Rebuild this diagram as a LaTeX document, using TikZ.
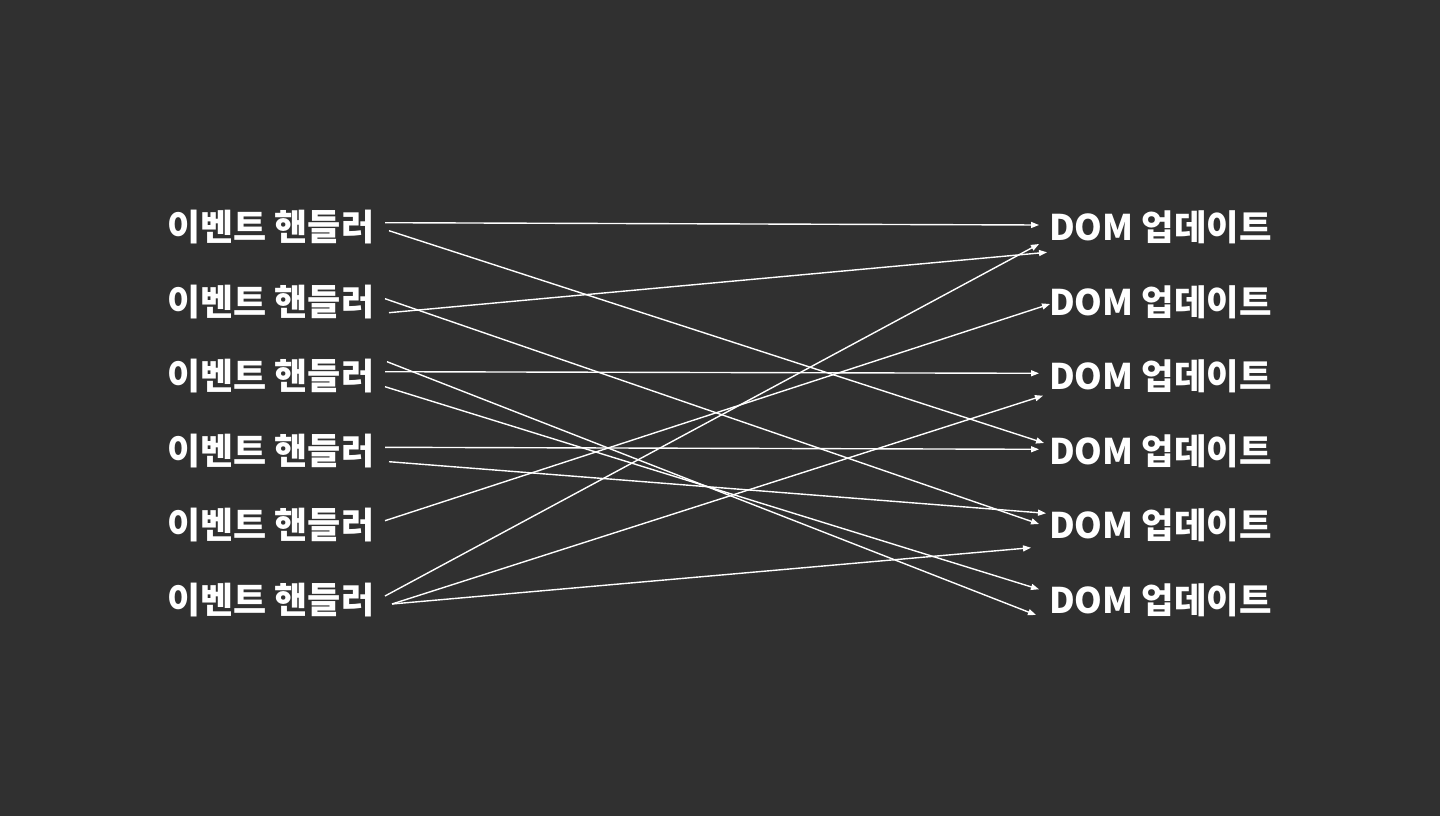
\documentclass[tikz,border=0pt]{standalone}
\usepackage{fontspec}
\newfontfamily\kr{Noto Sans CJK KR}
\usetikzlibrary{arrows.meta}
\definecolor{bg}{HTML}{303030}
\begin{document}
\begin{tikzpicture}[x=1pt,y=-1pt,
  lbl/.style={anchor=west,inner sep=0pt,text=white,font=\kr\bfseries\fontsize{36}{42}\selectfont},
  rlbl/.style={lbl,font=\kr\bfseries\fontsize{35.3}{42}\selectfont},
  conn/.style={draw=white,line width=1.4pt,-{Triangle[length=8pt,width=6pt]}}]
\fill[bg] (0,0) rectangle (1440,816);
\useasboundingbox (0,0) rectangle (1440,816);
% labels
\foreach \i/\y in {1/227,2/302,3/376,4/451,5/525,6/600}{
  \node[lbl] (e\i) at (167,\y) {이벤트 핸들러};
  \node[rlbl] (d\i) at (1049,\y) {DOM 업데이트};
}
% start points
\coordinate (s1a) at (385,222.7);
\coordinate (s1b) at (389,230.7);
\coordinate (s2a) at (385,298.7);
\coordinate (s2b) at (389,312.7);
\coordinate (s3a) at (387,361.7);
\coordinate (s3b) at (385,371.7);
\coordinate (s3c) at (385,386.7);
\coordinate (s4a) at (385,447.3);
\coordinate (s4b) at (389,461.7);
\coordinate (s5a) at (385,520.7);
\coordinate (s6a) at (385,596);
\coordinate (s6b) at (392,604);
% end points
\coordinate (t1a) at (1039,225);
\coordinate (t1b) at (1039,244);
\coordinate (t1c) at (1047,252.3);
\coordinate (t2a) at (1050,304);
\coordinate (t3a) at (1039,373.3);
\coordinate (t3b) at (1043,395.7);
\coordinate (t4a) at (1044,443);
\coordinate (t4b) at (1039,449.3);
\coordinate (t5a) at (1046,513.3);
\coordinate (t5b) at (1039,524);
\coordinate (t5c) at (1031,547.7);
\coordinate (t6a) at (1039,589.3);
\coordinate (t6b) at (1036,615);
% connectors
\draw[conn] (s1a) -- (t1a);
\draw[conn] (s1b) -- (t4a);
\draw[conn] (s2a) -- (t5b);
\draw[conn] (s2b) -- (t1c);
\draw[conn] (s3a) -- (t6b);
\draw[conn] (s3b) -- (t3a);
\draw[conn] (s3c) -- (t6a);
\draw[conn] (s4a) -- (t4b);
\draw[conn] (s4b) -- (t5a);
\draw[conn] (s5a) -- (t2a);
\draw[conn] (s6a) -- (t1b);
\draw[conn] (s6b) -- (t3b);
\draw[conn] (s6b) -- (t5c);
\end{tikzpicture}
\end{document}
